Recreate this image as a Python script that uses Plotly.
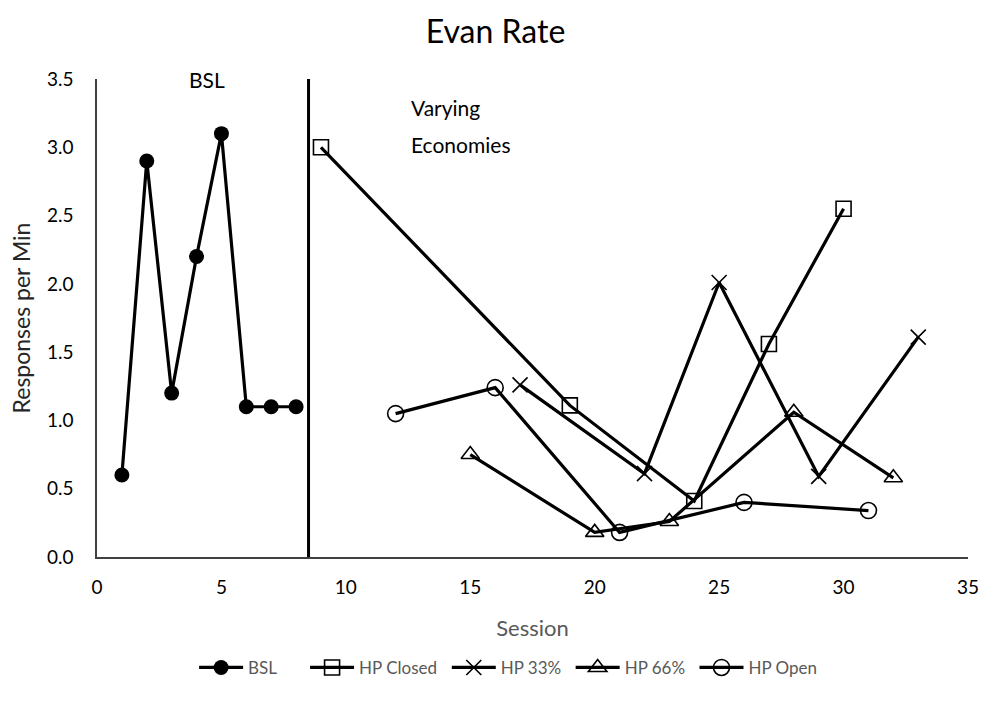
import plotly.graph_objects as go

bsl_x = [1, 2, 3, 4, 5, 6, 7, 8]
bsl_y = [0.6, 2.9, 1.2, 2.2, 3.1, 1.1, 1.1, 1.1]

closed_x = [9, 19, 24, 27, 30]
closed_y = [3.0, 1.11, 0.41, 1.56, 2.55]

hp33_x = [17, 22, 25, 29, 33]
hp33_y = [1.26, 0.61, 2.01, 0.59, 1.61]

hp66_x = [15, 20, 23, 28, 32]
hp66_y = [0.75, 0.18, 0.26, 1.06, 0.58]

open_x = [12, 16, 21, 26, 31]
open_y = [1.05, 1.24, 0.18, 0.4, 0.34]

phase_x = 8.5
x_ticks = [0, 5, 10, 15, 20, 25, 30, 35]
y_ticks = [0, 0.5, 1.0, 1.5, 2.0, 2.5, 3.0, 3.5]

FONT = "Lato"
fig = go.Figure()

legend_names = ["legend", "legend2", "legend3", "legend4", "legend5"]
legend_x = [0.1115, 0.2389, 0.4016, 0.5438, 0.6860]

def add(idx, name, x, y, symbol, size, lw=1.6):
    fig.add_trace(go.Scatter(
        x=x, y=y, name=name, mode="lines+markers",
        line=dict(color="black", width=3.2),
        marker=dict(symbol=symbol, size=size, color="black",
                    line=dict(color="black", width=lw)),
        legend=legend_names[idx],
    ))

add(0, "BSL", bsl_x, bsl_y, "circle", 15, 0)
add(1, "HP Closed", closed_x, closed_y, "square-open", 15)
add(2, "HP 33%", hp33_x, hp33_y, "x-thin-open", 15)
add(3, "HP 66%", hp66_x, hp66_y, "triangle-up-open", 16)
add(4, "HP Open", open_x, open_y, "circle-open", 16)

fig.add_shape(type="line", x0=phase_x, x1=phase_x, y0=0, y1=3.5,
              xref="x", yref="y", line=dict(color="black", width=3))

fig.add_annotation(x=4.42, y=3.5, xref="x", yref="y", text="BSL", showarrow=False,
                   font=dict(family=FONT, size=21, color="black"), yanchor="middle")
fig.add_annotation(x=12.55, y=3.29, xref="x", yref="y", text="Varying",
                   showarrow=False, xanchor="left", yanchor="middle",
                   font=dict(family=FONT, size=21, color="black"))
fig.add_annotation(x=12.55, y=3.02, xref="x", yref="y", text="Economies",
                   showarrow=False, xanchor="left", yanchor="middle",
                   font=dict(family=FONT, size=21, color="black"))

legends = {}
for name, lx in zip(legend_names, legend_x):
    legends[name] = dict(orientation="h", x=lx, xanchor="left", y=-0.232, yanchor="middle",
                         font=dict(family=FONT, size=17, color="#595959"), itemwidth=44,
                         bgcolor="rgba(0,0,0,0)")

fig.update_layout(
    width=991, height=711,
    margin=dict(l=97, r=15, t=79, b=154),
    paper_bgcolor="white", plot_bgcolor="white",
    title=dict(text="Evan Rate", x=0.5, xanchor="center", y=0.955, yanchor="middle",
               font=dict(family=FONT, size=32, color="black")),
    font=dict(family=FONT, size=19, color="black"),
    showlegend=True,
    **legends,
    xaxis=dict(range=[0, 35], tickvals=x_ticks, showgrid=False, zeroline=False,
               showline=True, linecolor="#404040", linewidth=1.5, ticks="",
               ticklabelstandoff=12,
               tickfont=dict(family=FONT, size=19, color="black"),
               title=dict(text="Session", font=dict(family=FONT, size=22, color="#595959"),
                          standoff=24)),
    yaxis=dict(range=[0, 3.5], tickvals=y_ticks, tickformat=".1f", showgrid=False,
               zeroline=False, showline=True, linecolor="#404040", linewidth=1.5, ticks="",
               ticklabelstandoff=18,
               tickfont=dict(family=FONT, size=19, color="black"),
               title=dict(text="Responses per Min", font=dict(family=FONT, size=23, color="#262626"),
                          standoff=10)),
)

fig.write_html("out.html")
